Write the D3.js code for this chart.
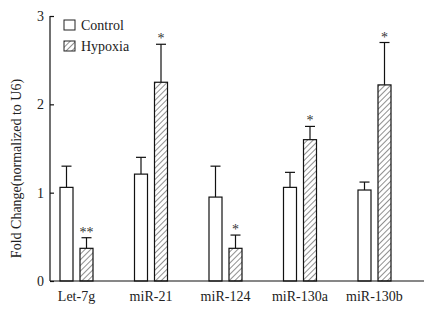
<!DOCTYPE html>
<html>
<head>
<meta charset="utf-8">
<script src="https://cdn.jsdelivr.net/npm/d3@7"></script>
<style>
  body { margin: 0; background: #fff; }
  svg { display: block; font-family: "Liberation Serif", "Times New Roman", serif; }
</style>
</head>
<body>
<div id="chart"></div>
<script>
// data
const categories = ["Let-7g", "miR-21", "miR-124", "miR-130a", "miR-130b"];
const controlMean = [1.06, 1.21, 0.95, 1.06, 1.03];
const controlErr = [0.24, 0.19, 0.35, 0.17, 0.09];
const hypoxiaMean = [0.37, 2.25, 0.37, 1.60, 2.22];
const hypoxiaErr = [0.12, 0.43, 0.15, 0.15, 0.48];
const hypoxiaSig = ["**", "*", "*", "*", "*"];
const yTicks = [0, 1, 2, 3];

const W = 430, H = 313;
const margin = { top: 16, right: 6, bottom: 32, left: 50 };

const svg = d3.select("#chart").append("svg")
  .attr("width", W)
  .attr("height", H);

const x = d3.scaleBand()
  .domain(categories)
  .range([60, 391])
  .paddingInner(0.557)
  .paddingOuter(0);

const y = d3.scaleLinear()
  .domain([0, 3])
  .range([H - margin.bottom, margin.top]);

const series = [
  { name: "Control", mean: controlMean, err: controlErr, sig: null },
  { name: "Hypoxia", mean: hypoxiaMean, err: hypoxiaErr, sig: hypoxiaSig }
];

const xSub = d3.scaleBand()
  .domain(series.map(s => s.name))
  .range([0, x.bandwidth()])
  .paddingInner(0.35);

// hatch pattern
const defs = svg.append("defs");
const pat = defs.append("pattern")
  .attr("id", "hatch")
  .attr("patternUnits", "userSpaceOnUse")
  .attr("width", 4)
  .attr("height", 4)
  .attr("patternTransform", "rotate(45)");
pat.append("rect").attr("width", 4).attr("height", 4).attr("fill", "#fff");
pat.append("line")
  .attr("x1", 0).attr("y1", 0).attr("x2", 0).attr("y2", 4)
  .attr("stroke", "#222").attr("stroke-width", 1);

const fillFor = name => name === "Control" ? "#fff" : "url(#hatch)";

// bars + error bars
series.forEach(s => {
  const g = svg.append("g");
  categories.forEach((c, i) => {
    const bx = x(c) + xSub(s.name);
    const bw = xSub.bandwidth();
    const cx = bx + bw / 2;
    const top = y(s.mean[i] + s.err[i]);

    g.append("line")
      .attr("x1", cx).attr("x2", cx)
      .attr("y1", y(s.mean[i])).attr("y2", top)
      .attr("stroke", "#111").attr("stroke-width", 1.2);
    g.append("line")
      .attr("x1", cx - 5).attr("x2", cx + 5)
      .attr("y1", top).attr("y2", top)
      .attr("stroke", "#111").attr("stroke-width", 1.2);

    g.append("rect")
      .attr("x", bx)
      .attr("y", y(s.mean[i]))
      .attr("width", bw)
      .attr("height", y(0) - y(s.mean[i]))
      .attr("fill", fillFor(s.name))
      .attr("stroke", "#111")
      .attr("stroke-width", 1.2);

    if (s.sig) {
      g.append("text")
        .attr("x", cx)
        .attr("y", top - 1)
        .attr("text-anchor", "middle")
        .attr("font-size", 14)
        .attr("fill", "#333")
        .text(s.sig[i]);
    }
  });
});

// axes
const yAxis = svg.append("g")
  .attr("transform", `translate(${margin.left},0)`)
  .call(d3.axisRight(y).tickValues(yTicks).tickFormat(d3.format("d")).tickSize(4));
yAxis.select(".domain").attr("d", `M0,${y(3)}V${y(0)}`).attr("stroke", "#111").attr("stroke-width", 1.2);
yAxis.selectAll(".tick line").attr("stroke", "#111").attr("stroke-width", 1.2);
yAxis.selectAll(".tick text")
  .attr("x", -6)
  .attr("text-anchor", "end")
  .attr("font-size", 14)
  .attr("font-family", "Liberation Serif, serif")
  .attr("fill", "#222");

svg.append("line")
  .attr("x1", margin.left).attr("x2", W - margin.right)
  .attr("y1", y(0)).attr("y2", y(0))
  .attr("stroke", "#111").attr("stroke-width", 1.2);

svg.append("g")
  .selectAll("text")
  .data(categories)
  .join("text")
  .attr("x", d => x(d) + x.bandwidth() / 2)
  .attr("y", y(0) + 20)
  .attr("text-anchor", "middle")
  .attr("font-size", 14)
  .attr("fill", "#222")
  .text(d => d);

svg.append("text")
  .attr("transform", `translate(21,${(y(0) + y(3)) / 2 + 20}) rotate(-90)`)
  .attr("text-anchor", "middle")
  .attr("font-size", 14)
  .attr("fill", "#222")
  .text("Fold Change(normalized to U6)");

// legend
const legend = svg.append("g").attr("transform", "translate(64,20)");
series.forEach((s, i) => {
  const row = legend.append("g").attr("transform", `translate(0,${i * 21})`);
  row.append("rect")
    .attr("width", 11).attr("height", 10)
    .attr("fill", fillFor(s.name))
    .attr("stroke", "#222").attr("stroke-width", 1);
  row.append("text")
    .attr("x", 17).attr("y", 10)
    .attr("font-size", 14)
    .attr("fill", "#222")
    .text(s.name);
});
</script>
</body>
</html>
